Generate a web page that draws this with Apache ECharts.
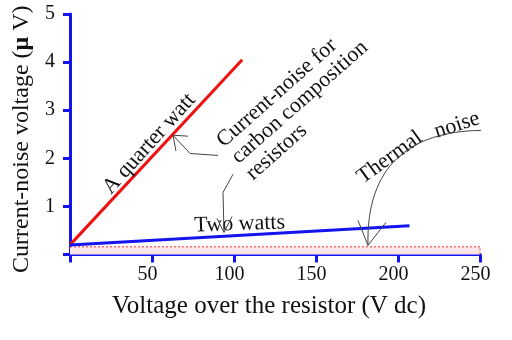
<!DOCTYPE html>
<html><head><meta charset="utf-8">
<script src="https://cdn.jsdelivr.net/npm/echarts@6/dist/echarts.min.js"></script>
<style>html,body{margin:0;padding:0;background:#fff}#c{width:512px;height:340px}</style>
</head><body><div id="c"></div>
<script>
// ---- data ----
const xTicks = [0, 50, 100, 150, 200, 250];
const yTicks = [0, 1, 2, 3, 4, 5];
const quarterWattX = [0, 105];
const quarterWattY = [0.2, 4.05];
const twoWattsX = [0, 207];
const twoWattsY = [0.2, 0.6];
const thermalX = [0, 250];
const thermalY = [0.16, 0.16];
const xTitle = 'Voltage over the resistor (V dc)';
const yTitle = 'Current-noise voltage ({b|μ} V)';
// annotation anchors (data coordinates)
const labelQuarter = ['A quarter watt', 48.3, 2.3];
const labelCurrent = ['Current-noise for\ncarbon composition\nresistors', 87.0, 2.48];
const labelTwo = ['Two watts', 103.5, 0.63];
const labelThermalA = ['Thermal', 195.0, 2.02];
const labelThermalB = ['noise', 236.0, 2.69];
const arrow1 = [[90.2, 2.06], [73.2, 2.10], [62.8, 2.48]];
const arrow1Head = [[72.0, 2.46], [62.8, 2.48], [64.6, 2.15]];
const arrow2 = [[99.4, 1.67], [93.3, 1.29], [93.9, 0.46]];
const arrow2Head = [[98.8, 0.79], [93.9, 0.46], [89.6, 0.75]];
const arrow3 = [[250.6, 2.58], [207.3, 2.56], [180.5, 1.85], [181.7, 0.19]];
const arrow3Head = [[175.6, 0.71], [181.7, 0.19], [192.7, 0.67]];

const pair = (xs, ys) => xs.map((x, i) => [x, ys[i]]);
const FONT = 'Liberation Serif';
const AX = '#1414ee';
const chart = echarts.init(document.getElementById('c'));
chart.setOption({
  animation: false,
  grid: { left: 70, right: 32, top: 14, bottom: 85.5 },
  xAxis: {
    type: 'value', min: xTicks[0], max: xTicks[xTicks.length - 1], interval: 50,
    name: xTitle, nameLocation: 'middle', nameGap: 39,
    nameTextStyle: { fontFamily: FONT, fontSize: 25, color: '#111', padding: [0, 12, 0, 0] },
    axisLine: { lineStyle: { color: AX, width: 3 } },
    axisTick: { length: 8, lineStyle: { color: AX, width: 3 } },
    axisLabel: { fontFamily: FONT, fontSize: 20, color: '#111', margin: 10, padding: [0, 9, 0, 0],
      formatter: v => v === 0 ? '' : String(v) },
    splitLine: { show: false }
  },
  yAxis: {
    type: 'value', min: yTicks[0], max: yTicks[yTicks.length - 1], interval: 1,
    name: yTitle, nameLocation: 'middle', nameGap: 33,
    nameTextStyle: { fontFamily: FONT, fontSize: 24, color: '#111', padding: [0, 10, 0, 0],
      rich: { b: { fontFamily: FONT, fontSize: 24, fontWeight: 'bold', color: '#111' } } },
    axisLine: { lineStyle: { color: AX, width: 3 } },
    axisTick: { length: 7, lineStyle: { color: AX, width: 3 } },
    axisLabel: { fontFamily: FONT, fontSize: 20, color: '#111', margin: 15,
      formatter: v => v === 0 ? '' : String(v) },
    splitLine: { show: false }
  },
  series: [
    { type: 'line', data: pair(thermalX, thermalY), symbol: 'none', z: 1,
      lineStyle: { color: '#f03030', width: 1, type: [2, 2] },
      areaStyle: { color: '#fde6e8', opacity: 1 } },
    { type: 'line', data: [[thermalX[1], 0], [thermalX[1], thermalY[1]]], symbol: 'none', z: 1,
      lineStyle: { color: '#f03030', width: 1, type: [2, 2] } },
    { type: 'line', data: pair(quarterWattX, quarterWattY), symbol: 'none',
      lineStyle: { color: '#ee1111', width: 3 } },
    { type: 'line', data: pair(twoWattsX, twoWattsY), symbol: 'none',
      lineStyle: { color: AX, width: 3 } }
  ]
});

const P = p => chart.convertToPixel({ gridIndex: 0 }, p);
const deg = d => d * Math.PI / 180;
const FS = '22px "' + FONT + '"';
const txt = (lab, rot, align, vAlign, extra) => {
  const p = P([lab[1], lab[2]]);
  return { type: 'text', x: p[0], y: p[1], rotation: deg(rot), z: 20,
    style: Object.assign({ text: lab[0], fill: '#111', font: FS,
      align: align, verticalAlign: vAlign }, extra || {}) };
};
const poly = pts => ({ type: 'polyline', z: 20, shape: { points: pts.map(P) },
  style: { stroke: '#444', lineWidth: 1, fill: null } });
const b = arrow3.map(P);
chart.setOption({
  graphic: [
    txt(labelQuarter, 48, 'center', 'middle'),
    txt(labelCurrent, 41.5, 'left', 'top', { lineHeight: 22 }),
    txt(labelTwo, 2, 'center', 'middle'),
    txt(labelThermalA, 36, 'center', 'middle'),
    txt(labelThermalB, 18, 'center', 'middle'),
    poly(arrow1), poly(arrow1Head), poly(arrow2), poly(arrow2Head), poly(arrow3Head),
    { type: 'bezierCurve', z: 20,
      shape: { x1: b[0][0], y1: b[0][1], cpx1: b[1][0], cpy1: b[1][1], cpx2: b[2][0], cpy2: b[2][1], x2: b[3][0], y2: b[3][1] },
      style: { stroke: '#444', lineWidth: 1, fill: null } }
  ]
});
</script></body></html>
